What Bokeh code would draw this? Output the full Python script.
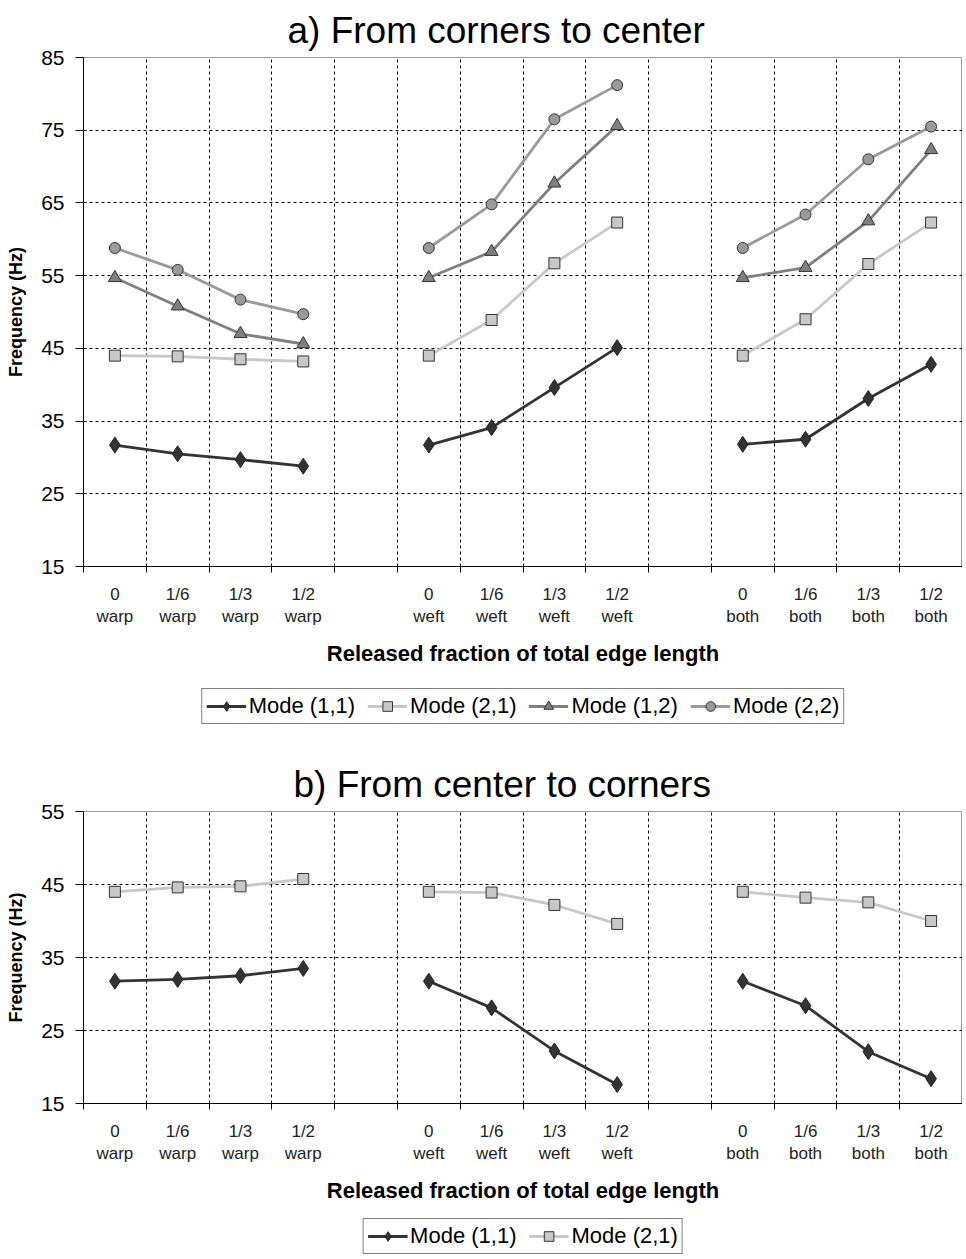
from bokeh.plotting import figure
from bokeh.models import (LinearAxis, FixedTicker, Range1d, Legend, LegendItem, Grid)
from bokeh.layouts import column
from bokeh.embed import file_html
from bokeh.resources import INLINE

FONT = "Liberation Sans"

# ---------------- data ----------------
groups = ["warp", "weft", "both"]
fractions = ["0", "1/6", "1/3", "1/2"]

# Panel a) From corners to center  (order: warp, weft, both)
a_m11_warp = [31.7, 30.5, 29.7, 28.8]
a_m11_weft = [31.7, 34.1, 39.6, 45.1]
a_m11_both = [31.8, 32.5, 38.1, 42.8]

a_m21_warp = [44.0, 43.9, 43.5, 43.2]
a_m21_weft = [44.0, 48.9, 56.7, 62.3]
a_m21_both = [44.0, 49.0, 56.6, 62.3]

a_m12_warp = [54.7, 50.8, 47.0, 45.6]
a_m12_weft = [54.7, 58.3, 67.7, 75.6]
a_m12_both = [54.7, 56.1, 62.5, 72.3]

a_m22_warp = [58.8, 55.8, 51.7, 49.7]
a_m22_weft = [58.8, 64.8, 76.5, 81.2]
a_m22_both = [58.8, 63.4, 71.0, 75.5]

# Panel b) From center to corners
b_m11_warp = [31.75, 32.0, 32.5, 33.5]
b_m11_weft = [31.75, 28.1, 22.2, 17.6]
b_m11_both = [31.75, 28.4, 22.1, 18.4]

b_m21_warp = [44.0, 44.6, 44.75, 45.75]
b_m21_weft = [44.0, 43.9, 42.2, 39.6]
b_m21_both = [44.0, 43.2, 42.55, 40.0]

labels = ["Mode (1,1)", "Mode (2,1)", "Mode (1,2)", "Mode (2,2)"]

# ---------------- helpers ----------------
NAN = float("nan")
GAP = 5  # category slots per group (4 used + 1 empty)
LEFT = 83
FRAME_W = 879


def cat_positions():
    xs = []
    for g in range(len(groups)):
        for i in range(len(fractions)):
            xs.append(g * GAP + i)
    return xs


def series_xy(warp, weft, both):
    xs, ys = [], []
    for g, vals in enumerate([warp, weft, both]):
        if g > 0:
            xs.append(NAN)
            ys.append(NAN)
        for i, v in enumerate(vals):
            xs.append(g * GAP + i)
            ys.append(v)
    return xs, ys


styles = [
    dict(line="#333333", fill="#333333", mline="#222222", marker="diamond", size=16),
    dict(line="#c8c8c8", fill="#c8c8c8", mline="#333333", marker="square", size=11),
    dict(line="#7f7f7f", fill="#7f7f7f", mline="#333333", marker="triangle", size=13),
    dict(line="#9a9a9a", fill="#9a9a9a", mline="#333333", marker="circle", size=11),
]


def add_series(p, x, y, st, msize=None):
    lr = p.line(x, y, line_color=st["line"], line_width=2.8)
    sr = p.scatter(x, y, marker=st["marker"], size=msize or st["size"], fill_color=st["fill"],
                   line_color=st["mline"], line_width=1)
    return lr, sr


def make_panel(title, title_offset, series, y0, y1, frame_h, top_border):
    n_slots = len(groups) * GAP - 1
    p = figure(frame_width=FRAME_W, frame_height=frame_h, output_backend="svg",
               toolbar_location=None,
               x_range=Range1d(-0.5, n_slots - 0.5), y_range=Range1d(y0, y1),
               x_axis_type=None, min_border_left=LEFT, min_border_right=0,
               min_border_top=top_border, min_border_bottom=110)
    p.title.text = title
    p.title.align = "left"
    p.title.offset = title_offset
    p.title.text_font = FONT
    p.title.text_font_size = "37px"
    p.title.text_font_style = "normal"
    p.title.text_color = "black"
    p.title.standoff = 14

    p.outline_line_color = "#999999"
    p.background_fill_color = "white"

    # y axis
    yticks = list(range(y0, y1 + 1, 10))
    yax = p.yaxis[0]
    yax.ticker = FixedTicker(ticks=yticks)
    yax.major_label_text_font = FONT
    yax.major_label_text_font_size = "21px"
    yax.major_label_text_color = "black"
    yax.major_label_standoff = 11
    yax.major_tick_out = 8
    yax.major_tick_in = 0
    yax.minor_tick_line_color = None
    yax.axis_line_color = "black"
    yax.major_tick_line_color = "black"
    yax.axis_label = "Frequency (Hz)"
    yax.axis_label_text_font = FONT
    yax.axis_label_text_font_size = "18px"
    yax.axis_label_text_font_style = "bold"
    yax.axis_label_text_color = "black"
    yax.axis_label_standoff = 12

    p.ygrid.ticker = FixedTicker(ticks=yticks[1:])
    p.ygrid.grid_line_color = "black"
    p.ygrid.grid_line_dash = "3 3"
    p.ygrid.grid_line_width = 1

    bounds = [k - 0.5 for k in range(n_slots + 1)]
    p.add_layout(Grid(dimension=0, ticker=FixedTicker(ticks=bounds[1:-1]),
                      grid_line_color="black", grid_line_dash="3 3", grid_line_width=1), "center")

    # x axis: labels at category centers, tick marks (minor) at boundaries
    centers = cat_positions()
    overrides = {}
    k = 0
    for g in groups:
        for f in fractions:
            overrides[centers[k]] = f + "\n" + g
            k += 1
    ax = LinearAxis(ticker=FixedTicker(ticks=centers, minor_ticks=bounds),
                    major_label_overrides=overrides,
                    axis_line_color="black", major_tick_line_color=None,
                    minor_tick_line_color="black", minor_tick_out=6, minor_tick_in=0,
                    major_tick_out=6, major_tick_in=0,
                    major_label_text_font=FONT, major_label_text_font_size="17px",
                    major_label_text_color="#222222", major_label_standoff=12,
                    axis_label="Released fraction of total edge length",
                    axis_label_text_font=FONT, axis_label_text_font_size="22px",
                    axis_label_text_color="black",
                    axis_label_text_font_style="bold", axis_label_standoff=12)
    p.add_layout(ax, "below")

    for (warp, weft, both), st in zip(series, styles):
        xs, ys = series_xy(warp, weft, both)
        add_series(p, xs, ys, st)
    return p


def make_legend(n, height):
    lf = figure(frame_width=FRAME_W, frame_height=height, output_backend="svg",
                toolbar_location=None, x_axis_type=None, y_axis_type=None,
                x_range=Range1d(0, 1), y_range=Range1d(0, 1),
                min_border_left=LEFT, min_border_right=0, min_border_top=0,
                min_border_bottom=0)
    lf.outline_line_color = None
    lf.grid.visible = False
    items = []
    for st, lab in zip(styles[:n], labels[:n]):
        # placeholder points lie outside the visible range; only the legend shows them
        lr, sr = add_series(lf, [-10, -9], [-10, -10], st)
        items.append(LegendItem(label=lab, renderers=[lr, sr]))
    legend = Legend(items=items, orientation="horizontal", location="center",
                    border_line_color="black", border_line_width=1,
                    label_text_font=FONT, label_text_font_size="22px",
                    label_text_color="black",
                    glyph_width=40, glyph_height=24, label_standoff=3, spacing=12,
                    padding=4, margin=0, background_fill_color="white")
    lf.add_layout(legend, "center")
    return lf


pa = make_panel("a) From corners to center", 204,
                [(a_m11_warp, a_m11_weft, a_m11_both),
                 (a_m21_warp, a_m21_weft, a_m21_both),
                 (a_m12_warp, a_m12_weft, a_m12_both),
                 (a_m22_warp, a_m22_weft, a_m22_both)],
                15, 85, 509, 55)
la = make_legend(4, 60)

pb = make_panel("b) From center to corners", 210,
                [(b_m11_warp, b_m11_weft, b_m11_both),
                 (b_m21_warp, b_m21_weft, b_m21_both)],
                15, 55, 292, 75)
lb = make_legend(2, 46)

layout = column(pa, la, pb, lb, spacing=0)
open("out.html", "w").write(file_html(layout, INLINE))
